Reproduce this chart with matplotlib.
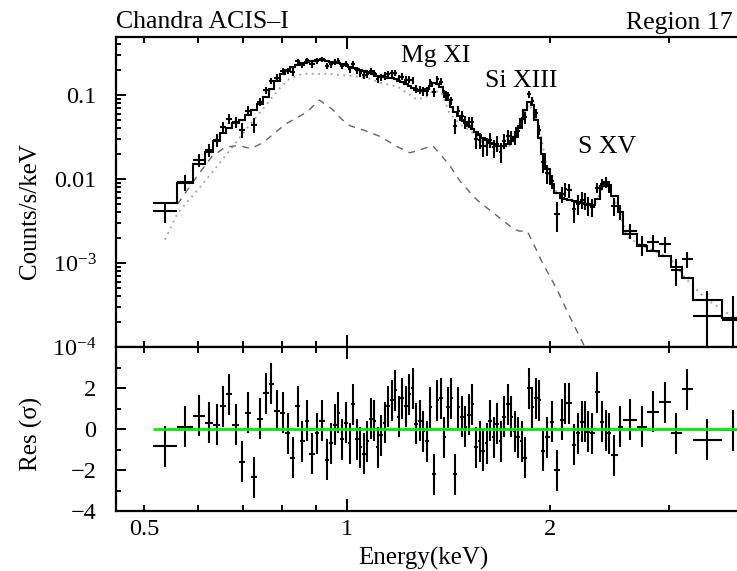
import numpy as np
import matplotlib
matplotlib.use("Agg")
import matplotlib.pyplot as plt
from matplotlib.ticker import FixedLocator, FixedFormatter, NullFormatter

plt.rcParams['font.family'] = ['Liberation Serif', 'DejaVu Serif']
plt.rcParams['mathtext.fontset'] = 'custom'
plt.rcParams['mathtext.rm'] = 'Liberation Serif'
plt.rcParams['mathtext.it'] = 'Liberation Serif:italic'

# ---- spectral bins (keV) ----
bin_edges = [
    0.515, 0.560, 0.590, 0.615, 0.633, 0.648, 0.661, 0.675, 0.692, 0.706, 0.720,
    0.735, 0.750, 0.765, 0.779, 0.795, 0.810, 0.823, 0.838, 0.851, 0.866,
    0.879, 0.895, 0.910, 0.926, 0.941, 0.953, 0.965, 0.977, 0.990, 1.003,
    1.015, 1.027, 1.040, 1.052, 1.065, 1.078, 1.091, 1.104, 1.117, 1.131,
    1.144, 1.158, 1.172, 1.186, 1.200, 1.215, 1.230, 1.244, 1.259, 1.274,
    1.290, 1.305, 1.321, 1.337, 1.353, 1.369, 1.386, 1.403, 1.420, 1.437,
    1.454, 1.472, 1.489, 1.507, 1.526, 1.544, 1.563, 1.582, 1.601, 1.620,
    1.640, 1.660, 1.680, 1.700, 1.721, 1.742, 1.763, 1.784, 1.806, 1.827,
    1.850, 1.872, 1.895, 1.918, 1.941, 1.964, 2.000,
    2.030, 2.068, 2.096, 2.120, 2.155, 2.190, 2.215, 2.242, 2.266, 2.290,
    2.330, 2.370, 2.405, 2.433, 2.460, 2.520, 2.570, 2.690, 2.790, 2.900,
    3.020, 3.140, 3.260, 3.600, 3.870,
]

# best-fit total model, counts/s/keV per bin
model_rate = [
    0.0052, 0.0089, 0.015, 0.021, 0.028, 0.035, 0.041, 0.046, 0.051, 0.058,
    0.066, 0.078, 0.094, 0.118, 0.148, 0.178, 0.198, 0.215, 0.228, 0.240,
    0.249, 0.256, 0.260, 0.258, 0.253, 0.248, 0.243, 0.238, 0.233, 0.226,
    0.218, 0.212, 0.206, 0.200, 0.195, 0.190, 0.183, 0.176, 0.170, 0.167,
    0.164, 0.161, 0.158, 0.153, 0.147, 0.142, 0.136, 0.128, 0.121, 0.115,
    0.111, 0.112, 0.118, 0.128, 0.138, 0.135, 0.125, 0.108, 0.088, 0.072,
    0.062, 0.056, 0.051, 0.047, 0.043, 0.039, 0.036, 0.033, 0.031, 0.029,
    0.027, 0.026, 0.025, 0.0245, 0.025, 0.026, 0.028, 0.032, 0.040, 0.052,
    0.066, 0.082, 0.075, 0.050, 0.031, 0.020, 0.013,
    0.0088, 0.0068, 0.0060, 0.0058, 0.0056, 0.0054, 0.0053, 0.0052, 0.0051, 0.0050,
    0.0049, 0.0058, 0.0082, 0.0092, 0.0085, 0.0062, 0.0040, 0.0022, 0.0016, 0.0014,
    0.0012, 0.00089, 0.00066, 0.00036, 0.00022,
]

# fit residuals, (data - model) / sigma
residual = [
    -0.85, 0.1, 0.65, 0.3, 0.2, 1.1, 1.7, 0.2, -1.6, 0.8,
    -2.35, 0.5, 1.75, 2.2, 0.9, 0.8, -0.2, -1.4, 1.1, -0.6,
    0.4, -1.2, -0.2, 0.4, -1.5, -0.7, 0.2, 0.8, -0.5, 0.3,
    -0.7, 1.2, -0.5, -0.9, -1.2, -0.6, 0.5, 0.4, -0.9, -0.3,
    0.3, 1.1, 1.4, 1.9, 0.6, 1.5, 1.1, 1.7, 2.0, 0.25,
    0.4, -0.1, -0.6, 1.05, -2.2, 1.4, 1.5, -0.4, 1.05, 1.5,
    -2.2, 1.05, 0.6, 0.1, 0.7, 1.2, -0.9, -0.6, -1.05, -0.7,
    0.4, -0.4, 0.25, -0.6, 0.6, 1.2, 0.6, -0.1, -0.4, -0.6,
    -1.4, 2.0, 1.05, 1.5, 1.4, -1.05, -0.4,
    0.36, -2.0, 0.44, 1.25, 1.25, -0.78, -0.2, 0.36, 0.36, -0.13,
    -0.2, 1.8, 0.36, -0.05, -0.2, -1.27, 0.1, 0.44, 0.1, 0.85,
    1.3, -0.2, 1.94, -0.53, -0.05,
]

# 1-sigma uncertainty relative to the model rate
rel_error = [
    0.23, 0.22, 0.20, 0.19, 0.18, 0.17, 0.16, 0.16, 0.15, 0.15,
    0.14, 0.13, 0.12, 0.11, 0.10, 0.10, 0.09, 0.09, 0.09, 0.085,
    0.085, 0.08, 0.08, 0.08, 0.08, 0.085, 0.085, 0.085, 0.085, 0.085,
    0.09, 0.09, 0.09, 0.095, 0.095, 0.095, 0.10, 0.10, 0.10, 0.10,
    0.10, 0.10, 0.105, 0.105, 0.105, 0.11, 0.11, 0.11, 0.115, 0.115,
    0.115, 0.115, 0.11, 0.105, 0.10, 0.10, 0.105, 0.11, 0.12, 0.13,
    0.14, 0.15, 0.16, 0.17, 0.17, 0.18, 0.19, 0.20, 0.20, 0.21,
    0.22, 0.22, 0.23, 0.23, 0.23, 0.22, 0.21, 0.19, 0.17, 0.15,
    0.13, 0.12, 0.12, 0.14, 0.17, 0.20, 0.24,
    0.20, 0.22, 0.24, 0.25, 0.25, 0.25, 0.25, 0.25, 0.25, 0.25,
    0.24, 0.20, 0.16, 0.15, 0.16, 0.18, 0.22, 0.22, 0.28, 0.30,
    0.30, 0.33, 0.35, 0.65, 0.90,
]

# model components
thermal_energy = [
    0.537, 0.56, 0.60, 0.64, 0.67, 0.71, 0.75, 0.79, 0.82, 0.86, 0.90, 0.94, 0.98,
    1.02, 1.07, 1.12, 1.19, 1.24, 1.27, 1.31, 1.34, 1.38, 1.42, 1.47, 1.52, 1.60,
    1.69, 1.76, 1.81, 1.86, 1.90, 1.94, 1.98, 2.02, 2.10, 2.20, 2.30, 2.35, 2.40,
    2.43, 2.48, 2.54, 2.60, 2.70, 2.80, 2.90, 3.00, 3.10, 3.20, 3.40, 3.60, 3.79,
]
thermal_rate = [
    0.0019, 0.0039, 0.0074, 0.0139, 0.022, 0.040, 0.068, 0.115, 0.155, 0.180, 0.178,
    0.178, 0.172, 0.168, 0.160, 0.140, 0.125, 0.100, 0.088, 0.095, 0.112, 0.108,
    0.060, 0.045, 0.038, 0.026, 0.022, 0.026, 0.050, 0.078, 0.058, 0.033, 0.013,
    0.0078, 0.0058, 0.0052, 0.0049, 0.0057, 0.0085, 0.009, 0.0062, 0.0040, 0.0021,
    0.0017, 0.0015, 0.0013, 0.0012, 0.00085, 0.00062, 0.00038, 0.00028, 0.00021,
]
soft_energy = [
    0.56, 0.60, 0.63, 0.66, 0.69, 0.72, 0.75, 0.78, 0.81, 0.84, 0.87, 0.91, 0.95,
    0.98, 1.01, 1.06, 1.12, 1.19, 1.24, 1.30, 1.34, 1.38, 1.42, 1.47, 1.52, 1.56,
    1.62, 1.68, 1.76, 1.80, 1.85, 1.89, 1.95, 2.05, 2.14, 2.24, 2.28,
]
soft_rate = [
    0.0050, 0.0110, 0.0185, 0.024, 0.025, 0.023, 0.027, 0.035, 0.045, 0.053, 0.062,
    0.087, 0.068, 0.052, 0.043, 0.038, 0.032, 0.024, 0.0205, 0.023, 0.025, 0.019,
    0.0145, 0.0095, 0.0070, 0.0056, 0.0044, 0.0035, 0.0026, 0.0024, 0.0024, 0.0017,
    0.0010, 0.00048, 0.00023, 0.00011, 0.00008,
]

line_ids = ["Mg XI", "Si XIII", "S XV"]
line_pos = [(1.352, 0.247), (1.812, 0.1245), (2.427, 0.0204)]

# ---- derived quantities ----
edges = np.array(bin_edges)
e_lo, e_hi = edges[:-1], edges[1:]
e_mid = np.sqrt(e_lo * e_hi)
model = np.array(model_rate)
resid = np.array(residual)
sigma = np.array(rel_error) * model
rate = model + resid * sigma          # observed rate

# ---- figure ----
W, H = 737, 571
fig = plt.figure(figsize=(W / 100, H / 100), dpi=100)
ax1 = fig.add_axes([116 / W, 224 / H, 621 / W, 310 / H])
ax2 = fig.add_axes([116 / W, 60 / H, 621 / W, 164 / H], sharex=ax1)

lw = 1.5
FS = 17.5

# spectrum panel
ax1.set_xscale('log')
ax1.set_yscale('log')
ax1.plot(thermal_energy, thermal_rate, color='#a0a0a0', lw=1.3,
         linestyle=(0, (1, 2.5)), zorder=1)
ax1.plot(soft_energy, soft_rate, color='#666666', lw=1.0,
         linestyle=(0, (5, 4.5)), zorder=1)
ax1.stairs(model, edges, baseline=None, color='black', lw=lw, zorder=2)
ax1.hlines(rate, e_lo, e_hi, color='black', lw=lw, zorder=3)
ax1.vlines(e_mid, np.clip(rate - sigma, 1e-7, None), rate + sigma,
           color='black', lw=lw, zorder=3)
for name, (ex, ey) in zip(line_ids, line_pos):
    ax1.text(ex, ey, name, ha='center', va='baseline', fontsize=18.5)

ax1.set_xlim(0.454, 3.79)
ax1.set_ylim(1e-4, 0.49)

# residual panel
ax2.hlines(resid, e_lo, e_hi, color='black', lw=lw, zorder=2)
ax2.vlines(e_mid, resid - 1, resid + 1, color='black', lw=lw, zorder=2)
ax2.hlines(0, edges[0], 3.79, color='#00ee00', lw=2.0, zorder=3)
ax2.set_ylim(-4, 4)

# ticks
xmaj = [1.0]
xmin = [0.5, 0.6, 0.7, 0.8, 0.9, 2.0, 3.0]
for ax in (ax1, ax2):
    ax.xaxis.set_major_locator(FixedLocator(xmaj))
    ax.xaxis.set_minor_locator(FixedLocator(xmin))
    for s in ('left', 'top', 'bottom'):
        ax.spines[s].set_linewidth(1.6)
    ax.spines['right'].set_visible(False)
    ax.tick_params(axis='both', which='both', direction='in', top=True,
                   right=False, width=1.4, labelsize=FS, pad=14)
    ax.tick_params(axis='x', which='major', length=8.5)
    ax.tick_params(axis='x', which='minor', length=4)
    ax.tick_params(axis='y', which='major', length=7)
    ax.tick_params(axis='y', which='minor', length=3.5)

ax1.xaxis.set_major_formatter(NullFormatter())
ax1.xaxis.set_minor_formatter(NullFormatter())
ax2.xaxis.set_major_formatter(FixedFormatter(['1']))
ax2.xaxis.set_minor_formatter(FixedFormatter(['0.5', '', '', '', '', '2', '']))
ax2.tick_params(axis='x', which='both', pad=6)

ydec = [1e-4, 1e-3, 1e-2, 1e-1]
ax1.yaxis.set_major_locator(FixedLocator(ydec))
ax1.yaxis.set_major_formatter(FixedFormatter(
    [r'$\mathregular{10^{-4}}$', r'$\mathregular{10^{-3}}$', '0.01', '0.1']))
ax1.yaxis.set_minor_locator(FixedLocator(
    [m * d for d in ydec for m in range(2, 10) if m * d < 0.49]))
ax1.yaxis.set_minor_formatter(NullFormatter())

ax2.yaxis.set_major_locator(FixedLocator([-4, -2, 0, 2]))
ax2.yaxis.set_major_formatter(FixedFormatter(['\u22124', '\u22122', '0', '2']))
ax2.yaxis.set_minor_locator(FixedLocator([-3, -1, 1, 3]))

# labels
fig.text(116 / W, 1 - 28.5 / H, 'Chandra ACIS\u2013I', ha='left', va='baseline', fontsize=18.5)
fig.text(733 / W, 1 - 28.5 / H, 'Region 17', ha='right', va='baseline', fontsize=18.5)
fig.text(30 / W, 1 - 211 / H, 'Counts/s/keV', rotation=90, ha='center', va='center', fontsize=18)
fig.text(31 / W, 1 - 434 / H, 'Res (\u03c3)', rotation=90, ha='center', va='center', fontsize=18)
fig.text(423 / W, 1 - 558 / H, 'Energy(keV)', ha='center', va='center', fontsize=18)

fig.savefig('out.png', dpi=100)
